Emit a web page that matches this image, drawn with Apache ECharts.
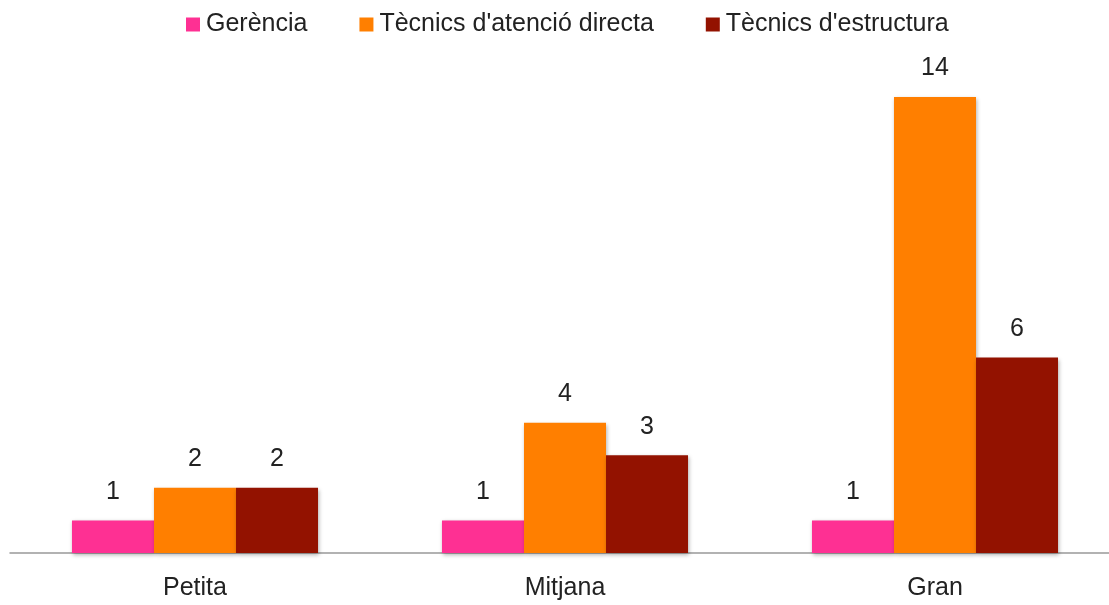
<!DOCTYPE html>
<html><head><meta charset="utf-8">
<script src="https://cdn.jsdelivr.net/npm/echarts@6/dist/echarts.min.js"></script>
<style>html,body{margin:0;padding:0;background:#fff;overflow:hidden}#c{width:1120px;height:605px}</style>
</head><body><div id="c"></div>
<script>
const categories = ['Petita', 'Mitjana', 'Gran'];
const seriesNames = ['Gerència', "Tècnics d'atenció directa", "Tècnics d'estructura"];
const gerencia = [1, 1, 1];
const atencio = [2, 4, 14];
const estructura = [2, 3, 6];
const colors = ['#FE3093', '#FF7F00', '#931200'];

const chart = echarts.init(document.getElementById('c'));
const font = 'Liberation Sans, Helvetica, Arial, sans-serif';
function mk(name, data, color) {
  return {
    name: name, type: 'bar', data: data, barGap: '0%', barCategoryGap: '33.5%',
    itemStyle: { color: color, shadowBlur: 4, shadowOffsetY: 2, shadowOffsetX: 1, shadowColor: 'rgba(0,0,0,0.3)' },
    label: { show: true, position: 'top', distance: 16, fontSize: 25, color: '#222', fontFamily: font },
    emphasis: { disabled: true }
  };
}
chart.setOption({
  animation: false,
  color: colors,
  legend: {
    top: 7, left: 181, itemWidth: 14, itemHeight: 14, itemGap: 52,
    icon: 'rect',
    textStyle: { fontSize: 25, color: '#222', fontFamily: font, padding: [0, 0, 0, 1] },
    data: seriesNames
  },
  grid: { left: 10, right: 0, top: 97, bottom: 52, containLabel: false },
  xAxis: {
    type: 'category', data: categories,
    axisLine: { lineStyle: { color: '#999', width: 1.5 } },
    axisTick: { show: false },
    axisLabel: { fontSize: 25, color: '#222', margin: 23, fontFamily: font }
  },
  yAxis: { type: 'value', min: 0, max: 14, show: false, splitLine: { show: false } },
  series: [mk(seriesNames[0], gerencia, colors[0]), mk(seriesNames[1], atencio, colors[1]), mk(seriesNames[2], estructura, colors[2])]
});
</script></body></html>
